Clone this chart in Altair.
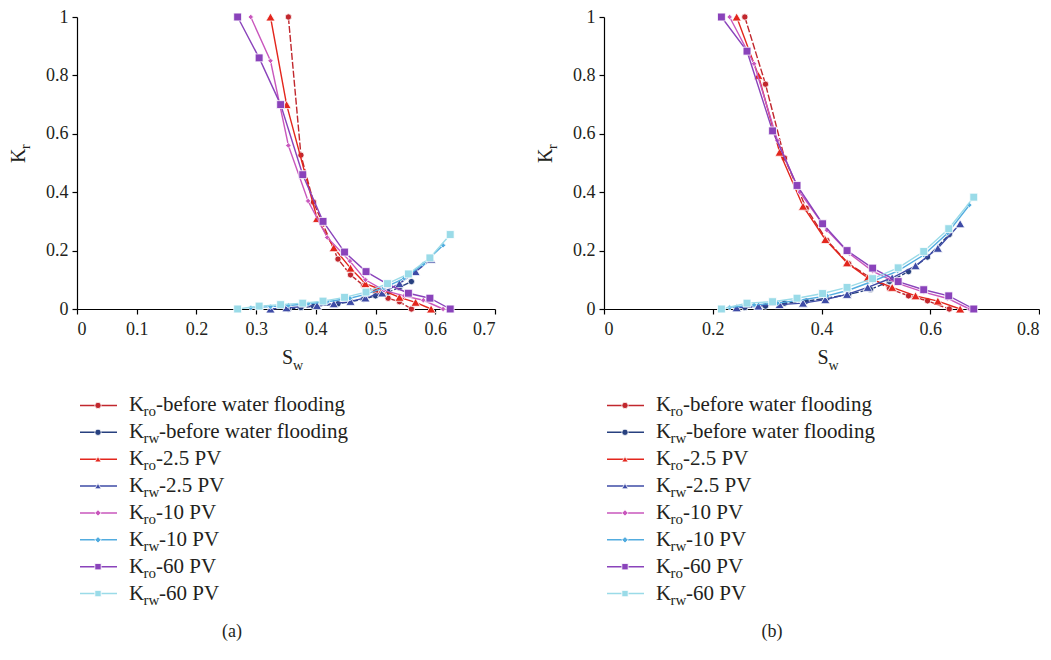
import altair as alt
import pandas as pd

# ---------------- data ----------------
SERIES = ["Kro-before water flooding", "Krw-before water flooding", "Kro-2.5 PV", "Krw-2.5 PV",
          "Kro-10 PV", "Krw-10 PV", "Kro-60 PV", "Krw-60 PV"]
LEG_SUB = ["ro", "rw", "ro", "rw", "ro", "rw", "ro", "rw"]
LEG_REST = ["-before water flooding", "-before water flooding", "-2.5 PV", "-2.5 PV",
            "-10 PV", "-10 PV", "-60 PV", "-60 PV"]

# panel (a)
A_BEFORE_SW = [0.354, 0.375, 0.396, 0.437, 0.458, 0.48, 0.50, 0.521, 0.54, 0.56]
A_KRO_BEFORE = [1.0, 0.527, 0.366, 0.171, 0.117, 0.08, 0.06, 0.037, 0.025, 0.0]
A_KRW_BEFORE = [0.0, 0.005, 0.009, 0.018, 0.025, 0.034, 0.045, 0.058, 0.074, 0.094]
A_25_SW = [0.324, 0.351, 0.402, 0.43, 0.458, 0.483, 0.511, 0.54, 0.567, 0.593]
A_KRO_25 = [1.0, 0.70, 0.31, 0.21, 0.14, 0.087, 0.065, 0.04, 0.023, 0.0]
A_KRW_25 = [0.0, 0.004, 0.012, 0.018, 0.026, 0.038, 0.055, 0.087, 0.128, 0.17]
A_10_SW = [0.291, 0.324, 0.354, 0.387, 0.419, 0.457, 0.483, 0.514, 0.548, 0.58, 0.613]
A_KRO_10 = [1.0, 0.85, 0.56, 0.37, 0.245, 0.164, 0.10, 0.064, 0.045, 0.03, 0.0]
A_KRW_10 = [0.004, 0.008, 0.012, 0.018, 0.025, 0.037, 0.05, 0.072, 0.105, 0.154, 0.218]
A_60_SW = [0.269, 0.305, 0.341, 0.378, 0.412, 0.448, 0.484, 0.52, 0.555, 0.591, 0.625]
A_KRO_60 = [1.0, 0.86, 0.70, 0.46, 0.30, 0.195, 0.128, 0.085, 0.054, 0.037, 0.0]
A_KRW_60 = [0.0, 0.01, 0.015, 0.02, 0.027, 0.04, 0.058, 0.087, 0.12, 0.175, 0.255]

# panel (b)
B_BEFORE_SW = [0.259, 0.297, 0.332, 0.372, 0.41, 0.45, 0.49, 0.525, 0.56, 0.595, 0.635]
B_KRO_BEFORE = [1.0, 0.77, 0.517, 0.345, 0.235, 0.155, 0.107, 0.07, 0.045, 0.028, 0.0]
B_KRW_BEFORE = [0.005, 0.01, 0.02, 0.027, 0.037, 0.05, 0.067, 0.094, 0.128, 0.178, 0.255]
B_25_SW = [0.244, 0.284, 0.323, 0.366, 0.407, 0.447, 0.485, 0.53, 0.573, 0.614, 0.655]
B_KRO_25 = [1.0, 0.80, 0.537, 0.352, 0.238, 0.158, 0.107, 0.074, 0.045, 0.027, 0.0]
B_KRW_25 = [0.004, 0.01, 0.015, 0.02, 0.032, 0.05, 0.074, 0.107, 0.148, 0.208, 0.292]
B_10_SW = [0.231, 0.276, 0.319, 0.36, 0.41, 0.451, 0.494, 0.54, 0.588, 0.632, 0.672]
B_KRO_10 = [1.0, 0.84, 0.577, 0.40, 0.27, 0.19, 0.13, 0.088, 0.058, 0.036, 0.0]
B_KRW_10 = [0.005, 0.014, 0.02, 0.03, 0.045, 0.065, 0.095, 0.13, 0.185, 0.26, 0.356]
B_60_SW = [0.216, 0.263, 0.31, 0.355, 0.402, 0.447, 0.494, 0.541, 0.588, 0.634, 0.68]
B_KRO_60 = [1.0, 0.883, 0.61, 0.423, 0.292, 0.20, 0.14, 0.094, 0.066, 0.045, 0.0]
B_KRW_60 = [0.0, 0.02, 0.025, 0.037, 0.053, 0.074, 0.104, 0.141, 0.197, 0.275, 0.383]

A_X_TICKS = [0, 0.1, 0.2, 0.3, 0.4, 0.5, 0.6, 0.7]
B_X_TICKS = [0, 0.2, 0.4, 0.6, 0.8]
Y_TICKS = [0, 0.2, 0.4, 0.6, 0.8, 1]

PANEL_A = [(A_BEFORE_SW, A_KRO_BEFORE), (A_BEFORE_SW, A_KRW_BEFORE), (A_25_SW, A_KRO_25), (A_25_SW, A_KRW_25),
           (A_10_SW, A_KRO_10), (A_10_SW, A_KRW_10), (A_60_SW, A_KRO_60), (A_60_SW, A_KRW_60)]
PANEL_B = [(B_BEFORE_SW, B_KRO_BEFORE), (B_BEFORE_SW, B_KRW_BEFORE), (B_25_SW, B_KRO_25), (B_25_SW, B_KRW_25),
           (B_10_SW, B_KRO_10), (B_10_SW, B_KRW_10), (B_60_SW, B_KRO_60), (B_60_SW, B_KRW_60)]

# ---------------- styles ----------------
COLORS = ["#c1272d", "#27407f", "#e3261d", "#3e4ba6", "#c957bd", "#52acdf", "#8a43bb", "#9adbe8"]
SHAPES = ["circle", "circle", "triangle-up", "triangle-up", "diamond", "diamond", "square", "square"]
SIZES = [40, 40, 85, 85, 30, 30, 62, 62]
DASHED = [True, True, False, False, False, False, False, False]
FONT = "Liberation Serif"
TXT = "#231f20"
PH = 292  # plot height
LEG_H = 215


def panel(data, ticks, xmax, width, caption, cap_x):
    xs = alt.Scale(domain=[0, xmax], nice=False, zero=False)
    ys = alt.Scale(domain=[0, 1], nice=False)
    xaxis = alt.Axis(values=ticks, format="~g", title=None, grid=False)
    yaxis = alt.Axis(values=Y_TICKS, format="~g", title=None, grid=False, labelPadding=4)
    layers = []
    for i, (sw, kr) in enumerate(data):
        df = pd.DataFrame({"sw": sw, "kr": kr, "i": list(range(len(sw)))})
        base = alt.Chart(df)
        lk = dict(color=COLORS[i], strokeWidth=1.4)
        if DASHED[i]:
            lk["strokeDash"] = [7, 2]
        line = base.mark_line(**lk).encode(
            x=alt.X("sw:Q", scale=xs, axis=xaxis),
            y=alt.Y("kr:Q", scale=ys, axis=yaxis),
            order="i:Q",
        )
        pts = base.mark_point(shape=SHAPES[i], filled=True, size=SIZES[i], fill=COLORS[i],
                              stroke="white", strokeWidth=0.8, opacity=1).encode(
            x=alt.X("sw:Q", scale=xs, axis=xaxis),
            y=alt.Y("kr:Q", scale=ys, axis=yaxis),
        )
        layers += [line, pts]
    one = pd.DataFrame({"k": ["K"], "s": ["S"], "r": ["r"], "w": ["w"]})
    tb = alt.Chart(one)
    layers.append(tb.mark_text(font=FONT, fontSize=20, color=TXT, align="left", baseline="alphabetic").encode(
        x=alt.value(width / 2 - 4), y=alt.value(PH + 55), text="s:N"))
    layers.append(tb.mark_text(font=FONT, fontSize=14, color=TXT, align="left", baseline="alphabetic").encode(
        x=alt.value(width / 2 + 7), y=alt.value(PH + 61), text="w:N"))
    layers.append(tb.mark_text(font=FONT, fontSize=20, color=TXT, align="left", baseline="alphabetic",
                               angle=270).encode(x=alt.value(-52), y=alt.value(146), text="k:N"))
    layers.append(tb.mark_text(font=FONT, fontSize=14, color=TXT, align="left", baseline="alphabetic",
                               angle=270, dx=14, dy=5).encode(x=alt.value(-52), y=alt.value(146), text="r:N"))
    plot = alt.layer(*layers).properties(width=width, height=PH)

    # legend
    ldf = pd.DataFrame({"row": list(range(8)), "name": SERIES, "sub": LEG_SUB, "rest": LEG_REST,
                        "k": ["K"] * 8})
    lb = alt.Chart(ldf)
    ysc = alt.Y("row:O", axis=None, scale=alt.Scale(type="point", padding=0.5))
    cs = alt.Color("row:N", scale=alt.Scale(domain=list(range(8)), range=COLORS), legend=None)
    rule = lb.mark_rule(strokeWidth=1.4).encode(x=alt.value(3), x2=alt.value(40), y=ysc, color=cs)
    mk = lb.mark_point(filled=True, stroke="white", strokeWidth=0.8, opacity=1).encode(
        x=alt.value(21), y=ysc,
        fill=alt.Fill("row:N", scale=alt.Scale(domain=list(range(8)), range=COLORS), legend=None),
        shape=alt.Shape("row:N", scale=alt.Scale(domain=list(range(8)), range=SHAPES), legend=None),
        size=alt.Size("row:O", scale=alt.Scale(domain=list(range(8)), range=SIZES), legend=None),
    )
    kt = lb.mark_text(font=FONT, fontSize=21, color=TXT, align="left", baseline="middle").encode(
        x=alt.value(52), y=ysc, text="k:N")
    st = lb.mark_text(font=FONT, fontSize=15, color=TXT, align="left", baseline="middle", dy=6).encode(
        x=alt.value(66.5), y=ysc, text="sub:N")
    rest_o = lb.transform_filter("datum.sub == 'ro'").mark_text(
        font=FONT, fontSize=21, color=TXT, align="left", baseline="middle").encode(
        x=alt.value(79), y=ysc, text="rest:N")
    rest_w = lb.transform_filter("datum.sub == 'rw'").mark_text(
        font=FONT, fontSize=21, color=TXT, align="left", baseline="middle").encode(
        x=alt.value(82), y=ysc, text="rest:N")
    cap = alt.Chart(pd.DataFrame({"c": [caption]})).mark_text(
        font=FONT, fontSize=18, color=TXT, align="center", baseline="middle").encode(
        x=alt.value(cap_x), y=alt.value(240), text="c:N")
    legend = alt.layer(rule, mk, kt, st, rest_o, rest_w, cap).properties(width=width, height=LEG_H)
    return alt.vconcat(plot, legend, spacing=83, bounds="flush")


left = panel(PANEL_A, A_X_TICKS, 0.7, 418, "(a)", 155)
right = panel(PANEL_B, B_X_TICKS, 0.8, 435, "(b)", 168)

chart = alt.hconcat(left, right, spacing=40).properties(
    padding={"left": 1, "top": 0, "right": 0, "bottom": 4}
).configure_view(stroke=None).configure_axis(
    domainColor="black", domainWidth=1.2, tickColor="black", tickWidth=1.2, tickSize=5,
    labelFont=FONT, labelFontSize=18, labelColor=TXT, labelPadding=7,
).configure_axisX(labelPadding=6)

chart.save("out.html", embed_options={"renderer": "svg", "actions": False})
